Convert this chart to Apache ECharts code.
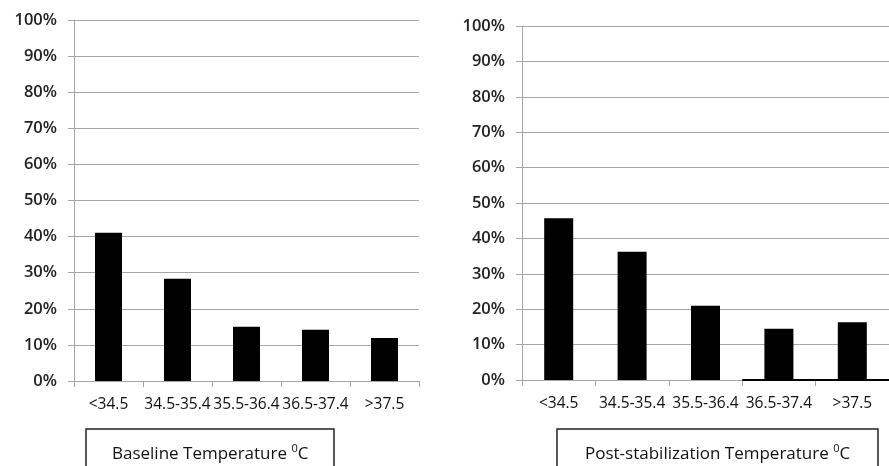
<!DOCTYPE html>
<html>
<head>
<meta charset="utf-8">
<script src="https://cdn.jsdelivr.net/npm/echarts@6/dist/echarts.min.js"></script>
<style>
html,body{margin:0;padding:0;background:#fff;}
#chart{width:889px;height:466px;}
</style>
</head>
<body>
<div id="chart"></div>
<script>
// ---- data ----
const categories = ['<34.5', '34.5-35.4', '35.5-36.4', '36.5-37.4', '>37.5'];
const baselineValues = [41.1, 28.3, 15.0, 14.2, 11.9];
const postStabValues = [45.7, 36.2, 21.0, 14.5, 16.3];
const yTicks = [0, 10, 20, 30, 40, 50, 60, 70, 80, 90, 100];
const baselineTitle = 'Baseline Temperature ';
const postTitle = 'Post-stabilization Temperature ';
// dark segment on the right chart's baseline (category index range)
const postBaseSegment = [[3, 0], [5, 0]];

const FONT = '"Open Sans", "Liberation Sans", sans-serif';
const GRID_COLOR = '#a6a6a6';

function yAxis(gridIndex) {
  return {
    type: 'value', gridIndex, min: yTicks[0], max: yTicks[yTicks.length - 1], interval: 10,
    axisLine: { show: true, lineStyle: { color: GRID_COLOR, width: 1 } },
    axisTick: { show: true, length: 6, lineStyle: { color: GRID_COLOR } },
    splitLine: { show: true, lineStyle: { color: GRID_COLOR, width: 1 } },
    axisLabel: { formatter: '{value}%', margin: 17, color: '#222', fontFamily: FONT, fontSize: 16.5, fontWeight: 600 }
  };
}
function xAxis(gridIndex) {
  return {
    type: 'category', gridIndex, data: categories,
    axisLine: { show: true, lineStyle: { color: GRID_COLOR, width: 1 } },
    axisTick: { show: true, length: 6, alignWithLabel: false, lineStyle: { color: GRID_COLOR } },
    axisLabel: { interval: 0, margin: 16, color: '#111', fontFamily: FONT, fontSize: 15.5, hideOverlap: false }
  };
}
function boxTitle(text, left, hpad) {
  return {
    text: '{t|' + text + '}{s|0}{t|C}',
    left: left, top: 429,
    borderColor: '#222', borderWidth: 1.5,
    padding: [14, hpad, 28, hpad],
    textStyle: {
      rich: {
        t: { fontFamily: FONT, fontSize: 17, color: '#111', fontWeight: 'normal', verticalAlign: 'bottom' },
        s: { fontFamily: FONT, fontSize: 11, color: '#111', fontWeight: 'normal', verticalAlign: 'top', padding: [0, 0, 9, 0] }
      }
    }
  };
}

const chart = echarts.init(document.getElementById('chart'), null, { renderer: 'canvas' });
chart.setOption({
  backgroundColor: '#fff',
  animation: false,
  title: [
    boxTitle(baselineTitle, 86, 26),
    boxTitle(postTitle, 557, 28)
  ],
  grid: [
    { left: 74, top: 20, right: 470, bottom: 85 },
    { left: 522, top: 26, right: -5, bottom: 86 }
  ],
  xAxis: [
    xAxis(0), xAxis(1),
    { type: 'value', gridIndex: 1, min: 0, max: 5, show: false }
  ],
  yAxis: [yAxis(0), yAxis(1)],
  series: [
    { type: 'bar', xAxisIndex: 0, yAxisIndex: 0, data: baselineValues, barWidth: 27, itemStyle: { color: '#000' } },
    { type: 'bar', xAxisIndex: 1, yAxisIndex: 1, data: postStabValues, barWidth: 29, itemStyle: { color: '#000' } },
    { type: 'line', xAxisIndex: 2, yAxisIndex: 1, data: postBaseSegment, symbol: 'none', lineStyle: { color: '#000', width: 2 }, z: 5 }
  ]
});
</script>
</body>
</html>
